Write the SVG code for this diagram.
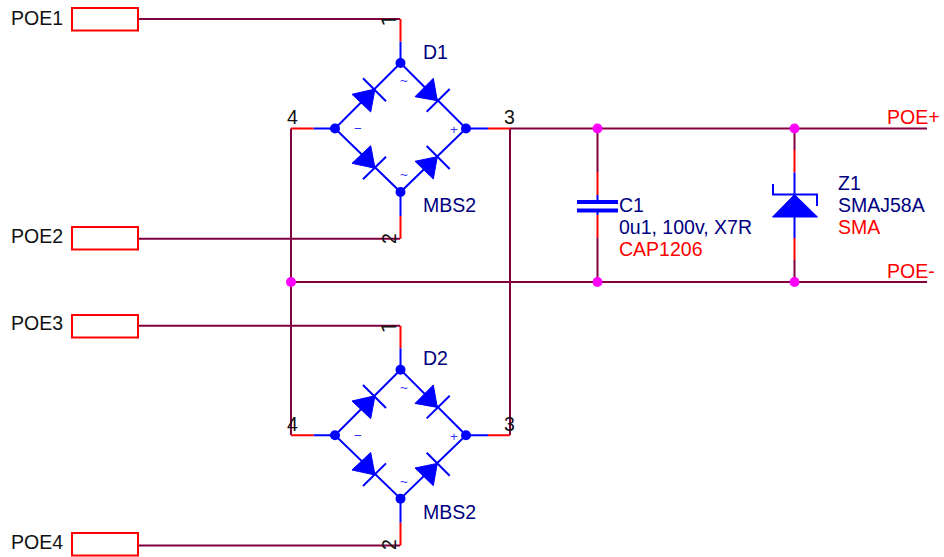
<svg xmlns="http://www.w3.org/2000/svg" width="944" height="557" viewBox="0 0 944 557">
<style>
text{font-family:"Liberation Sans",Arial,sans-serif;font-size:19.5px}
text.pin{font-family:Roboto,"Liberation Sans",sans-serif}
.k{fill:#111}.n{fill:#000080}.r{fill:#ff0000}.b{fill:#0000ff}
text.m{font-size:13.5px;text-anchor:middle;fill:#3030ff}
.w{stroke:#800040;stroke-width:2;fill:none}
.p{stroke:#ff0000;stroke-width:2;fill:none}
.s{stroke:#0000ff;stroke-width:2;fill:none}
.tri{fill:#0000ff;stroke:#0000ff;stroke-width:1}
.dot{fill:#ff00ff}
.bd{fill:#0000ff}
.box{fill:#fff;stroke:#ff0000;stroke-width:2}
</style>
<defs>
<g id="bridge">
<path class="s" d="M400.5 41.5V63L466 128.5 400.5 192 335 128.5 400.5 63M400.5 192V216M335 128.5H313.5M466 128.5H488"/>
<path class="s" d="M363 78.3L386 101.3M426.7 111.7L449.7 89M363 179.3L386 156.7M426.7 146L449.7 169"/>
<path class="tri" d="M352 94.3L370.7 112 375 89ZM415 96.7L433.3 78.3 437.3 100.7ZM352 163.3L370.7 145.7 375 168.3ZM415 161.3L433.3 179 437.3 156.7Z"/>
<circle class="bd" cx="400.5" cy="63" r="5"/><circle class="bd" cx="400.5" cy="192" r="5"/><circle class="bd" cx="335" cy="128.5" r="5"/><circle class="bd" cx="466" cy="128.5" r="5"/>
<text class="m" x="404" y="85">~</text>
<text class="m" x="404" y="179">~</text>
<text class="m" x="358" y="133">−</text>
<text class="m" x="454" y="134">+</text>
<path class="p" d="M400.5 19V41.5M400.5 216V238.7M291 128.5H313.5M488 128.5H510"/>
</g>
</defs>
<g id="connectors">
<path class="w" d="M138 19H400M138 238.7H400M138 325.7H400M138 545.4H400"/>
<path class="w" d="M510 128.5H927M291 282H927M291 128.5V435M510 128.5V435"/>
<path class="w" d="M597.5 128.5V172M597.5 238V282M794.5 128.5V150M794.5 260V282"/>
<path class="p" d="M597.5 172V195M597.5 215V238M794.5 150V172.5M794.5 238V260"/>
</g>
<g id="POE1"><rect class="box" x="72" y="8" width="66" height="22.5"/><text class="k" x="11" y="25">POE1</text></g>
<g id="POE2"><rect class="box" x="72" y="227" width="66" height="22.5"/><text class="k" x="11" y="243">POE2</text></g>
<g id="POE3"><rect class="box" x="72" y="315" width="66" height="22.5"/><text class="k" x="11" y="330">POE3</text></g>
<g id="POE4"><rect class="box" x="72" y="533" width="66" height="22.5"/><text class="k" x="11" y="549">POE4</text></g>
<g id="D1">
<use href="#bridge"/>
<text class="n" x="423" y="59">D1</text><text class="n" x="423" y="211.5">MBS2</text>
<text class="k" x="287" y="123.5">4</text><text class="k" x="504" y="123.5">3</text>
<text class="k pin" transform="translate(396 26) rotate(-90)">1</text>
<text class="k" transform="translate(396 244) rotate(-90)">2</text>
</g>
<g id="D2">
<use href="#bridge" transform="translate(0 306.7)"/>
<text class="n" x="423" y="365">D2</text><text class="n" x="423" y="518.5">MBS2</text>
<text class="k" x="287" y="430.5">4</text><text class="k" x="504" y="430.5">3</text>
<text class="k pin" transform="translate(396 332.7) rotate(-90)">1</text>
<text class="k" transform="translate(396 550) rotate(-90)">2</text>
</g>
<g id="C1">
<path class="s" d="M597.5 195V200M597.5 212V215"/>
<rect class="bd" x="577" y="200" width="41" height="4"/><rect class="bd" x="577" y="208.5" width="41" height="4"/>
<text class="n" x="619" y="212">C1</text><text class="n" x="619" y="234">0u1, 100v, X7R</text><text class="r" x="619" y="256">CAP1206</text>
</g>
<g id="Z1">
<path class="s" d="M794.5 172.5V238M773 184V194.5H817V206"/>
<path class="tri" d="M794.5 194.5L772.5 217H817.5Z"/>
<text class="n" x="838" y="190">Z1</text><text class="n" x="838" y="212">SMAJ58A</text><text class="r" x="838" y="234">SMA</text>
</g>
<g id="nets">
<text class="r" x="887" y="123.5">POE+</text><text class="r" x="887" y="278">POE-</text>
<circle class="dot" cx="597.5" cy="128.5" r="5"/><circle class="dot" cx="794.5" cy="128.5" r="5"/><circle class="dot" cx="597.5" cy="282" r="5"/><circle class="dot" cx="794.5" cy="282" r="5"/><circle class="dot" cx="291" cy="282" r="5"/>
</g>
</svg>
